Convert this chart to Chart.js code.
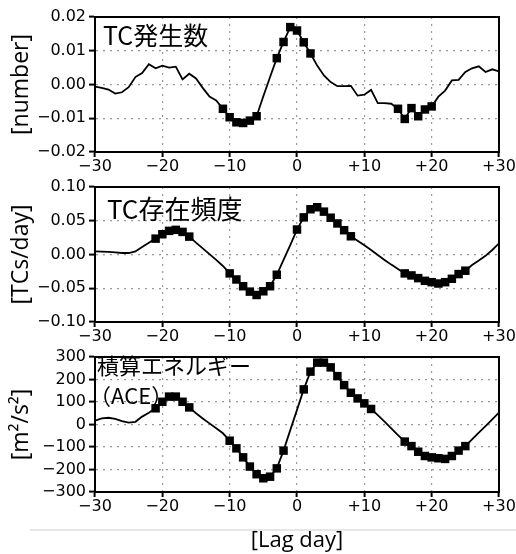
<!DOCTYPE html>
<html>
<head>
<meta charset="utf-8">
<script src="https://cdn.jsdelivr.net/npm/chart.js@4"></script>
<style>
body { margin: 0; background: #fff; width: 516px; height: 554px; overflow: hidden; position: relative; }
canvas { position: absolute; left: 0; }
#sep { position: absolute; left: 30px; top: 529px; width: 486px; border-top: 2px solid #e6e6e6; }
</style>
</head>
<body>
<canvas id="c1" width="516" height="190" style="top:0"></canvas>
<canvas id="c2" width="516" height="190" style="top:170px"></canvas>
<div id="sep"></div>
<canvas id="c3" width="516" height="214" style="top:340px"></canvas>
<script>
// lag days of the composite
const lagDays = [-30,-29,-28,-27,-26,-25,-24,-23,-22,-21,-20,-19,-18,-17,-16,-15,-14,-13,-12,-11,
  -10,-9,-8,-7,-6,-5,-4,-3,-2,-1,0,1,2,3,4,5,6,7,8,9,10,11,12,13,14,15,16,17,18,19,20,
  21,22,23,24,25,26,27,28,29,30];

// TC genesis number anomaly
const genesis = [-0.0006,-0.0010,-0.0015,-0.0027,-0.0023,-0.0008,0.0022,0.0034,0.0060,0.0048,
  0.0056,0.0050,0.0053,0.0015,0.0032,0.0018,-0.0010,-0.0036,-0.0047,-0.0072,
  -0.0097,-0.0112,-0.0114,-0.0107,-0.0094,-0.0035,0.0022,0.0078,0.0126,0.0170,
  0.0160,0.0125,0.0092,0.0056,0.0027,0.0007,-0.0005,-0.0005,-0.0004,-0.0033,
  -0.0030,-0.0016,-0.0055,-0.0055,-0.0057,-0.0072,-0.0102,-0.0070,-0.0094,-0.0074,
  -0.0065,-0.0036,-0.0018,0.0012,0.0014,0.0037,0.0048,0.0054,0.0037,0.0045,0.0039];
const genesisSig = [-11,-10,-9,-8,-7,-6,-3,-2,-1,0,1,2,15,16,17,18,19,20];

// TC occurrence frequency anomaly
const frequency = [0.0045,0.0043,0.0038,0.0030,0.0022,0.0022,0.0045,0.0110,0.0175,0.0235,
  0.0300,0.0350,0.0365,0.0335,0.0265,0.0175,0.0090,0.0005,-0.0080,-0.0170,
  -0.0280,-0.0370,-0.0470,-0.0550,-0.0600,-0.0545,-0.0470,-0.0300,-0.0080,0.0140,
  0.0370,0.0550,0.0670,0.0700,0.0635,0.0545,0.0460,0.0360,0.0270,0.0205,
  0.0136,0.0067,-0.0007,-0.0080,-0.0150,-0.0215,-0.0280,-0.0310,-0.0350,-0.0390,
  -0.0410,-0.0430,-0.0410,-0.0360,-0.0290,-0.0240,-0.0155,-0.0090,-0.0020,0.0067,0.0165];
const frequencySig = [-21,-20,-19,-18,-17,-16,-10,-9,-8,-7,-6,-5,-4,-3,
  0,1,2,3,4,5,6,7,8,16,17,18,19,20,21,22,23,24,25];

// accumulated cyclone energy anomaly
const ace = [17,27,30,25,15,8,12,35,52,72,
  101,124,124,101,76,50,27,5,-17,-39,
  -72,-106,-146,-187,-221,-239,-232,-195,-116,-25,
  65,156,235,275,275,254,215,175,141,116,
  94,69,42,13,-17,-47,-76,-96,-121,-140,
  -146,-150,-153,-140,-116,-96,-66,-36,-7,23,53];
const aceSig = [-21,-20,-19,-18,-17,-16,-10,-9,-8,-7,-6,-5,-4,-3,-2,
  1,2,3,4,5,6,7,8,9,10,11,16,17,18,19,20,21,22,23,24,25];

const MINUS = '\u2212';
const tickFont = { family: 'DejaVu Sans', size: 16 };
const jpFont = '"Noto Sans CJK JP", sans-serif';

// frame around the plot area + panel label
const framePlugin = {
  id: 'frame',
  afterDraw(chart) {
    const { ctx, chartArea: a } = chart;
    ctx.save();
    ctx.strokeStyle = '#000';
    ctx.lineWidth = 2;
    ctx.strokeRect(a.left, a.top, a.right - a.left, a.bottom - a.top);
    const t = chart.options.plugins.frame;
    ctx.fillStyle = '#000';
    ctx.textBaseline = 'middle';
    t.lines.forEach(l => {
      ctx.font = l.size + 'px ' + jpFont;
      ctx.fillText(l.text, a.left + l.dx, a.top + l.dy);
    });
    ctx.restore();
  }
};

function makePanel(id, vals, sig, yMin, yMax, yStep, digits, yTitle, lines, xTitle) {
  const canvas = document.getElementById(id);
  const h = canvas.height;
  return new Chart(canvas, {
    type: 'line',
    data: {
      datasets: [{
        data: lagDays.map((d, i) => ({ x: d, y: vals[i] })),
        borderColor: '#000',
        borderWidth: 1.8,
        backgroundColor: '#000',
        pointStyle: 'rect',
        pointRadius: c => sig.includes(lagDays[c.dataIndex]) ? 6 : 0,
        pointBorderWidth: 0,
        pointBackgroundColor: '#000',
        tension: 0
      }]
    },
    options: {
      responsive: false,
      animation: false,
      layout: { padding: { top: 17, right: 17, left: 0, bottom: 0 } },
      plugins: {
        legend: { display: false },
        tooltip: { enabled: false },
        frame: { lines }
      },
      scales: {
        x: {
          type: 'linear',
          min: -30,
          max: 30,
          grid: { color: '#999', lineWidth: 1.2, tickLength: 5, tickColor: '#000', tickWidth: 2 },
          border: { display: true, color: '#000', width: 2, dash: [2, 5] },
          ticks: {
            stepSize: 10,
            padding: 0,
            color: '#000',
            font: tickFont,
            maxRotation: 0,
            callback: v => v > 0 ? '+' + v : String(v).replace('-', MINUS)
          },
          title: xTitle ? {
            display: true,
            text: xTitle,
            color: '#000',
            font: { family: 'Open Sans', size: 22 },
            padding: { top: 0, bottom: 0 }
          } : { display: false },
          afterFit: s => { s.height = h - 152; }
        },
        y: {
          min: yMin,
          max: yMax,
          grid: { color: '#999', lineWidth: 1.2, tickLength: 6, tickColor: '#000', tickWidth: 2 },
          border: { display: true, color: '#000', width: 2, dash: [2, 5] },
          ticks: {
            stepSize: yStep,
            padding: 3,
            color: '#000',
            font: tickFont,
            callback: v => v.toFixed(digits).replace('-', MINUS)
          },
          title: {
            display: true,
            text: yTitle,
            color: '#000',
            font: { family: 'Open Sans', size: 23 },
            padding: { top: 8, bottom: 0 }
          },
          afterFit: s => { s.width = 95; }
        }
      }
    },
    plugins: [framePlugin]
  });
}

makePanel('c1', genesis, genesisSig, -0.02, 0.02, 0.01, 2, '[number]',
  [{ text: 'TC発生数', size: 25, dx: 8, dy: 18 }]);
makePanel('c2', frequency, frequencySig, -0.10, 0.10, 0.05, 2, '[TCs/day]',
  [{ text: 'TC存在頻度', size: 26, dx: 12, dy: 22 }]);
makePanel('c3', ace, aceSig, -300, 300, 100, 0, '[m²/s²]',
  [{ text: '積算エネルギー', size: 22, dx: 2, dy: 9 },
   { text: '（ACE）', size: 22, dx: -6, dy: 39 }], '[Lag day]');
</script>
</body>
</html>
